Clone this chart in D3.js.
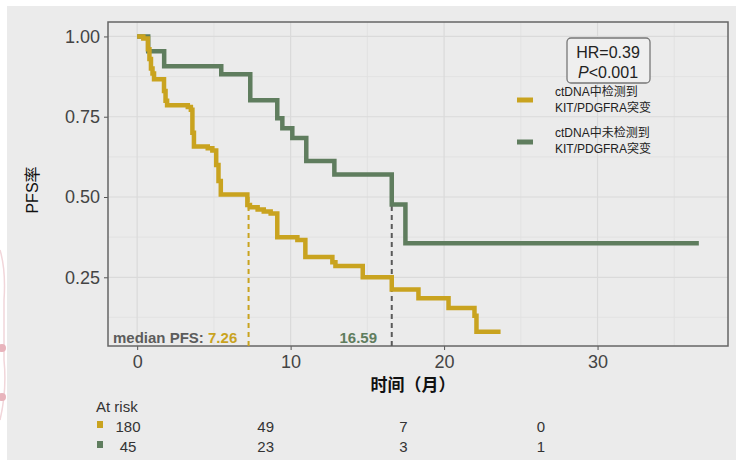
<!DOCTYPE html>
<html>
<head>
<meta charset="utf-8">
<script src="https://cdn.jsdelivr.net/npm/d3@7.9.0/dist/d3.min.js"></script>
<style>
  body { margin: 0; background: #fff; }
  svg { display: block; font-family: "Liberation Sans", Arial, "Noto Sans CJK SC", sans-serif; }
</style>
</head>
<body>
<svg id="chart" width="736" height="460"></svg>
<script>
// step data (time in months, survival after the step)
const yellowTime = [0, 0.4, 0.7, 0.8, 0.9, 1.0, 1.1, 1.75, 1.85, 1.95, 3.3, 3.5, 3.6, 3.7, 4.6, 4.9, 5.15, 5.3, 5.45, 7.18, 7.35, 7.85, 8.25, 8.7, 9.13, 10.44, 10.96, 12.72, 12.92, 14.7, 16.59, 18.33, 20.29, 21.98, 22.11, 23.68];
const yellowSurv = [1.0, 0.994, 0.96, 0.93, 0.90, 0.885, 0.867, 0.83, 0.80, 0.786, 0.78, 0.772, 0.70, 0.657, 0.652, 0.645, 0.60, 0.55, 0.508, 0.475, 0.468, 0.461, 0.455, 0.449, 0.375, 0.366, 0.313, 0.297, 0.285, 0.25, 0.212, 0.185, 0.154, 0.13, 0.08, 0.08];
const greenTime = [0, 0.72, 1.76, 5.48, 7.37, 9.13, 9.46, 10.11, 11.02, 12.85, 16.59, 17.48, 36.6];
const greenSurv = [1.0, 0.954, 0.907, 0.882, 0.801, 0.745, 0.714, 0.684, 0.612, 0.570, 0.477, 0.356, 0.356];

const medians = [7.26, 16.59];
const xTicks = [0, 10, 20, 30];
const yTicks = [0.25, 0.5, 0.75, 1.0];
const riskTimes = [0, 10, 20, 30];
const riskYellow = [180, 49, 7, 0];
const riskGreen = [45, 23, 3, 1];
const legendLabels = [["ctDNA中检测到", "KIT/PDGFRA突变"], ["ctDNA中未检测到", "KIT/PDGFRA突变"]];

const YELLOW = '#c9a31f';
const GREEN = '#5f7d5e';

const svg = d3.select('#chart');

// background
svg.append('rect').attr('x', 7).attr('y', 6).attr('width', 729).attr('height', 454).attr('fill', '#ebebeb');
// faint pink decoration on the left edge
svg.append('path').attr('d', 'M0,250 Q6,270 4,300 L4,360 Q7,390 0,420').attr('fill', 'none').attr('stroke', '#f1d6da').attr('stroke-width', 1.5);
svg.append('circle').attr('cx', 2).attr('cy', 348).attr('r', 4).attr('fill', '#e8b4bc');
svg.append('circle').attr('cx', 2).attr('cy', 397).attr('r', 4).attr('fill', '#e8b4bc');

const x = d3.scaleLinear().domain([-1.9, 38.5]).range([108, 728]);
const y = d3.scaleLinear().domain([0.036, 1.045]).range([346, 22]);

// grid
const g = svg.append('g');
[5, 15, 25, 35].forEach(t => g.append('line').attr('x1', x(t)).attr('x2', x(t)).attr('y1', 22).attr('y2', 346).attr('stroke', '#e0e0e0').attr('stroke-width', 0.8));
[0.125, 0.375, 0.625, 0.875].forEach(s => g.append('line').attr('x1', 108).attr('x2', 728).attr('y1', y(s)).attr('y2', y(s)).attr('stroke', '#e0e0e0').attr('stroke-width', 0.8));
xTicks.forEach(t => g.append('line').attr('x1', x(t)).attr('x2', x(t)).attr('y1', 22).attr('y2', 346).attr('stroke', '#dadada').attr('stroke-width', 1.2));
yTicks.forEach(s => g.append('line').attr('x1', 108).attr('x2', 728).attr('y1', y(s)).attr('y2', y(s)).attr('stroke', '#dadada').attr('stroke-width', 1.2));

// axes
const xAxis = svg.append('g').attr('transform', 'translate(0,346)')
  .call(d3.axisBottom(x).tickValues(xTicks).tickSize(4).tickPadding(5));
const yAxis = svg.append('g').attr('transform', 'translate(108,0)')
  .call(d3.axisLeft(y).tickValues(yTicks).tickFormat(d3.format('.2f')).tickSize(4).tickPadding(4));
[xAxis, yAxis].forEach(a => {
  a.select('.domain').remove();
  a.selectAll('.tick line').attr('stroke', '#555');
  a.selectAll('.tick text').attr('fill', '#444').style('font-size', '18px').style('font-family', '"Liberation Sans", Arial, sans-serif');
});

// panel border
svg.append('rect').attr('x', 108).attr('y', 22).attr('width', 620).attr('height', 324)
  .attr('fill', 'none').attr('stroke', '#666').attr('stroke-width', 1.5);

// median lines
svg.append('line').attr('x1', x(medians[0])).attr('x2', x(medians[0])).attr('y1', y(0.5)).attr('y2', 346)
  .attr('stroke', YELLOW).attr('stroke-width', 2).attr('stroke-dasharray', '5,4');
svg.append('line').attr('x1', x(medians[1])).attr('x2', x(medians[1])).attr('y1', y(0.5)).attr('y2', 346)
  .attr('stroke', '#5a5a5a').attr('stroke-width', 2).attr('stroke-dasharray', '5,4');

// curves
const line = d3.line().x(d => x(d[0])).y(d => y(d[1])).curve(d3.curveStepAfter);
svg.append('path').datum(greenTime.map((t, i) => [t, greenSurv[i]]))
  .attr('d', line).attr('fill', 'none').attr('stroke', GREEN).attr('stroke-width', 4.5);
svg.append('path').datum(yellowTime.map((t, i) => [t, yellowSurv[i]]))
  .attr('d', line).attr('fill', 'none').attr('stroke', YELLOW).attr('stroke-width', 4.5);

// median labels
const mt = svg.append('text').attr('x', 113).attr('y', 343).style('font-size', '15px').style('font-weight', 'bold');
mt.append('tspan').attr('fill', '#5c5c5c').text('median PFS: ');
mt.append('tspan').attr('fill', YELLOW).text(medians[0].toFixed(2));
svg.append('text').attr('x', 377).attr('y', 343).attr('text-anchor', 'end')
  .style('font-size', '15px').style('font-weight', 'bold').attr('fill', GREEN).text(medians[1].toFixed(2));

// HR box
svg.append('rect').attr('x', 567).attr('y', 38).attr('width', 83).attr('height', 45).attr('rx', 4)
  .attr('fill', '#efefef').attr('stroke', '#777').attr('stroke-width', 1.3);
svg.append('text').attr('x', 608).attr('y', 58).attr('text-anchor', 'middle').style('font-size', '16px').attr('fill', '#222').text('HR=0.39');
const pt = svg.append('text').attr('x', 608).attr('y', 78).attr('text-anchor', 'middle').style('font-size', '16px').attr('fill', '#222');
pt.append('tspan').style('font-style', 'italic').text('P');
pt.append('tspan').text('<0.001');

// legend
[YELLOW, GREEN].forEach((c, i) => {
  const ly = [100, 142][i];
  svg.append('line').attr('x1', 517).attr('x2', 533).attr('y1', ly).attr('y2', ly).attr('stroke', c).attr('stroke-width', 5);
  legendLabels[i].forEach((s, j) => {
    svg.append('text').attr('x', 555).attr('y', ly - 4 + j * 15.5 - (i ? 1 : 0)).style('font-size', '12px').attr('fill', '#222').text(s);
  });
});

// axis titles
svg.append('text').attr('transform', 'translate(38,190) rotate(-90)').attr('text-anchor', 'middle')
  .style('font-size', '16px').attr('fill', '#111').text('PFS率');
svg.append('text').attr('x', 413).attr('y', 391).attr('text-anchor', 'middle')
  .style('font-size', '17px').style('font-weight', 'bold').attr('fill', '#111').text('时间（月）');

// at risk table
const rx = d3.scaleLinear().domain([0, 30]).range([128, 541]);
svg.append('text').attr('x', 96).attr('y', 412).style('font-size', '15px').attr('fill', '#333').text('At risk');
[[riskYellow, YELLOW, 432], [riskGreen, GREEN, 452]].forEach(([vals, c, ry]) => {
  svg.append('rect').attr('x', 97).attr('y', ry - 11).attr('width', 6).attr('height', 7).attr('fill', c);
  vals.forEach((v, i) => {
    svg.append('text').attr('x', rx(riskTimes[i])).attr('y', ry).attr('text-anchor', 'middle')
      .style('font-size', '15px').attr('fill', '#333').text(v);
  });
});
</script>
</body>
</html>
